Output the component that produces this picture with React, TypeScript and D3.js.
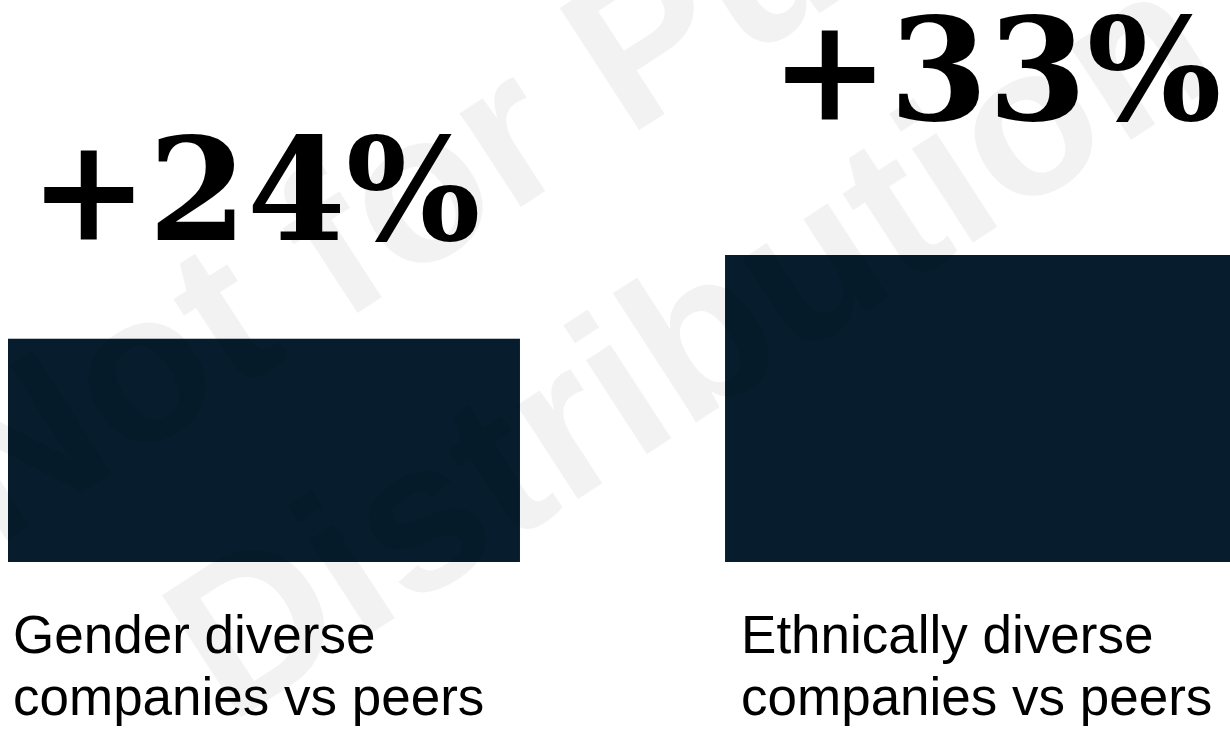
import React from "react";
import * as d3 from "d3";

const categories = ["Gender diverse companies vs peers", "Ethnically diverse companies vs peers"];
const categoryLines = [
  ["Gender diverse", "companies vs peers"],
  ["Ethnically diverse", "companies vs peers"],
];
const values = [24, 33];
const valueLabels = ["+24%", "+33%"];
const watermarkLines = ["Not for Public", "Distribution"];

const W = 1230;
const H = 729;
const BAR_COLOR = "#071d2d";

export default function App() {
  const x = d3
    .scaleBand<string>()
    .domain(categories)
    .range([8, 1237])
    .paddingInner(0.286)
    .paddingOuter(0);

  const y = d3
    .scaleLinear()
    .domain([0, d3.max(values) as number])
    .range([562, 255]);

  const bw = x.bandwidth();

  return (
    <div style={{ position: "fixed", left: 0, top: 0, width: W, height: H, background: "#fff", overflow: "hidden" }}>
      <svg width={W} height={H} style={{ display: "block" }}>
        <rect x={0} y={0} width={W} height={H} fill="#ffffff" />
        {categories.map((c, i) => (
          <rect
            key={c}
            x={x(c)}
            y={y(values[i])}
            width={bw}
            height={y(0) - y(values[i])}
            fill={BAR_COLOR}
          />
        ))}
        {categories.map((c, i) => (
          <text
            key={"v" + c}
            x={(x(c) as number) + bw / 2 - 9 + i * 24}
            y={y(values[i] * 1.44)}
            textAnchor="middle"
            fontFamily="'DejaVu Serif', serif"
            fontWeight="bold"
            fontSize={142}
            fill="#000"
          >
            {valueLabels[i]}
          </text>
        ))}
        {categories.map((c, i) => (
          <text
            key={"c" + c}
            x={(x(c) as number) + 5 + i * 11}
            y={y(0) + 91}
            fontFamily="'Liberation Sans', Arial, sans-serif"
            fontSize={53}
            fill="#000"
          >
            {categoryLines[i].map((line, j) => (
              <tspan key={j} x={(x(c) as number) + 5 + i * 11} dy={j === 0 ? 0 : 62}>
                {line}
              </tspan>
            ))}
          </text>
        ))}
        <g transform="translate(652,284) rotate(-33)" pointerEvents="none">
          {watermarkLines.map((t, i) => (
            <text
              key={t}
              x={0}
              y={i === 0 ? -136 : 140}
              textAnchor="middle"
              fontFamily="'Liberation Sans', Arial, sans-serif"
              fontWeight="bold"
              fontSize={212}
              fill="#000"
              fillOpacity={0.05}
            >
              {t}
            </text>
          ))}
        </g>
      </svg>
    </div>
  );
}
